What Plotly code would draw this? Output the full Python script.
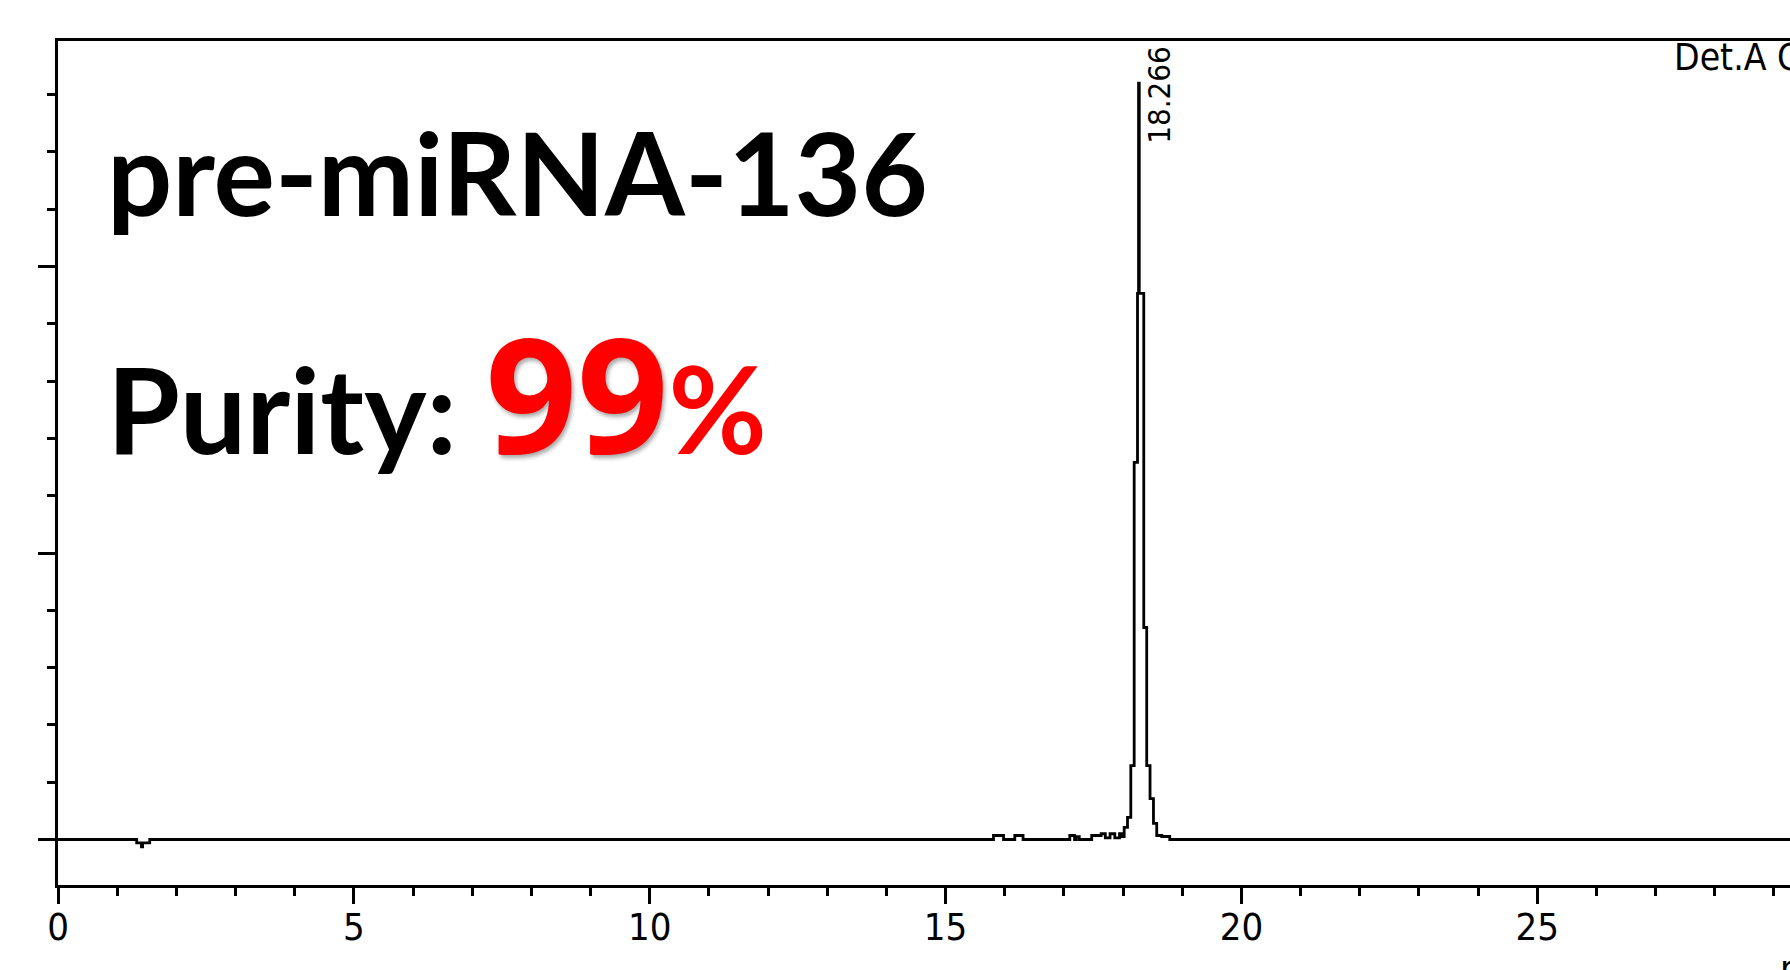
import plotly.graph_objects as go

# Chromatogram (Det.A Ch1): each sample holds its value until the next
# retention time (step trace), signal in detector units
time_min = [0.0, 1.33, 1.41, 1.43, 1.55,
            15.81, 15.98, 16.17, 16.31,
            17.10, 17.18, 17.21, 17.26,
            17.47, 17.63, 17.70, 17.78, 17.86, 17.94, 17.98,
            18.019, 18.075, 18.131, 18.188, 18.244, 18.262, 18.274,
            18.35, 18.40, 18.456, 18.514, 18.569, 18.654, 18.789, 30.0]
signal = [0.0, -1.2, -2.6, -1.2, 0.0,
          1.4, 0.0, 1.4, 0.0,
          1.4, 0.0, 1.0, 0.0,
          1.4, 2.0, 0.6, 2.0, 0.6, 2.0, 1.05,
          4.2, 7.7, 25.8, 131.6, 190.6, 264.0, 190.6,
          74.0, 25.8, 14.3, 5.6, 1.4, 1.05, 0.0, 0.0]

peak_rt = 18.266
sample_name = "pre-miRNA-136"
purity_pct = 99
detector = "Det.A Ch1"
x_unit = "min"

W, H = 1790, 970
ML, MT, MB, MR = 58, 41, 85, 0
plot_w = W - ML - MR
plot_h = H - MT - MB

NARROW = "Liberation Sans Narrow, Arial Narrow, DejaVu Sans Condensed, Liberation Sans, sans-serif"
BOLD = "Lato, Open Sans, sans-serif"


def px_x(px):
    return (px - ML) / plot_w


def px_y(py):
    return (H - MB - py) / plot_h


fig = go.Figure()
fig.add_trace(go.Scatter(
    x=time_min, y=signal, mode="lines",
    line=dict(color="black", width=2.8, shape="hv"),
    hoverinfo="skip", showlegend=False,
))

fig.update_xaxes(
    range=[0, plot_w / 59.17],
    showgrid=False, zeroline=False,
    showline=True, linecolor="black", linewidth=3, mirror=True,
    ticks="outside", ticklen=16, tickwidth=3, tickcolor="black",
    tick0=0, dtick=5, ticklabelstandoff=-10,
    minor=dict(ticks="outside", ticklen=8, tickwidth=3, tickcolor="black", dtick=1, tick0=0),
    tickfont=dict(family=NARROW, size=38, color="black"),
)
fig.update_yaxes(
    range=[-(H - MB - 839.5) / 2.865, (839.5 - MT) / 2.865],
    showgrid=False, zeroline=False,
    showline=True, linecolor="black", linewidth=3,
    ticks="outside", ticklen=17, tickwidth=3, tickcolor="black",
    tick0=0, dtick=100, showticklabels=False,
    minor=dict(ticks="outside", ticklen=8, tickwidth=3, tickcolor="black", dtick=20, tick0=0),
)

purity_text = ("<b>Purity: "
               "<span style='font-family:Open Sans;font-size:160px;color:#ff0000;"
               "text-shadow:2px 3px 4px rgba(0,0,0,0.35)'>" + str(purity_pct) + "</span>"
               "<span style='font-size:120px;color:#ff0000'>%</span></b>")

annotations = [
    dict(text=f"<b>{sample_name}</b>", x=px_x(106), y=px_y(171),
         xanchor="left", yanchor="middle",
         font=dict(family=BOLD, size=115, color="black")),
    dict(text=purity_text,
         x=px_x(106), y=px_y(502), xanchor="left", yanchor="bottom",
         font=dict(family=BOLD, size=118, color="black")),
    dict(text=f"{peak_rt:.3f}", x=peak_rt, xref="x", y=px_y(95),
         xshift=20, textangle=-90, xanchor="center", yanchor="middle",
         font=dict(family=NARROW, size=31, color="black")),
    dict(text=detector, x=px_x(1673), y=px_y(35), xanchor="left", yanchor="top",
         font=dict(family=NARROW, size=37, color="black")),
    dict(text=x_unit, x=px_x(1779), y=px_y(946), xanchor="left", yanchor="top",
         font=dict(family=NARROW, size=38, color="black")),
]
for a in annotations:
    a.setdefault("xref", "paper")
    a["yref"] = "paper"
    a["showarrow"] = False
    a["borderpad"] = 0
fig.update_layout(annotations=annotations)

fig.update_layout(
    width=W, height=H,
    margin=dict(l=ML, r=MR, t=MT, b=MB, pad=0),
    paper_bgcolor="white", plot_bgcolor="white",
    showlegend=False,
)

fig.write_html("out.html", config={"displayModeBar": False})
